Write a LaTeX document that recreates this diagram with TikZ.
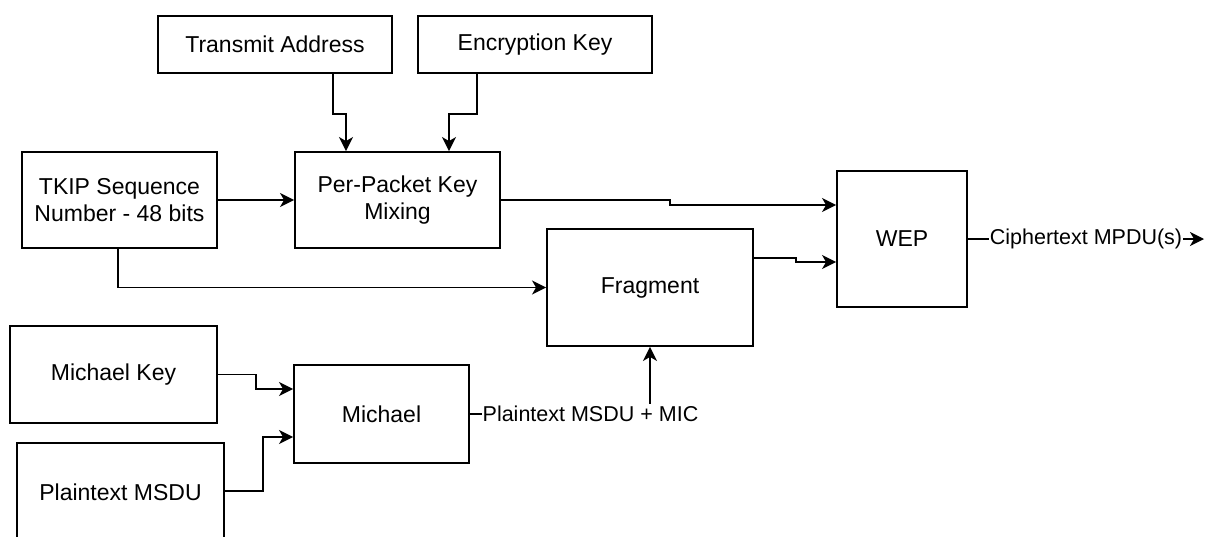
\documentclass[tikz,border=0pt]{standalone}
\usepackage{fontspec}
\setmainfont{Liberation Sans}
\usetikzlibrary{arrows.meta}
\begin{document}
\begin{tikzpicture}[x=1pt,y=-1pt,
  box/.style={draw, line width=1.9pt, align=center, inner sep=0pt,
    font=\fontsize{23}{27}\selectfont},
  arr/.style={line width=1.9pt, -{Stealth[length=14pt,width=14pt,inset=4pt]}},
  lbl/.style={fill=white, inner xsep=1pt, inner ysep=2pt,
    font=\fontsize{21.5}{25}\selectfont}]
\useasboundingbox (0,0) rectangle (1207,536);
\clip (0,0) rectangle (1207,536);

% key inputs
\node[box, minimum width=234pt, minimum height=57pt] (ta) at (275,44.5) {Transmit Address};
\node[box, minimum width=234pt, minimum height=57pt] (ek) at (535,44.5) {Encryption Key};

% mixing stage
\node[box, minimum width=195pt, minimum height=96pt] (tkip) at (119.5,200) {TKIP Sequence\\Number - 48 bits};
\node[box, minimum width=205pt, minimum height=96pt] (ppkm) at (397.5,200) {Per-Packet Key\\Mixing};

% fragmentation and encryption
\node[box, minimum width=206pt, minimum height=117pt] (frag) at (650,287.5) {Fragment};
\node[box, minimum width=130pt, minimum height=136pt] (wep) at (902,239) {WEP};

% integrity stage
\node[box, minimum width=207pt, minimum height=97pt] (mk) at (113.5,374.5) {Michael Key};
\node[box, minimum width=207pt, minimum height=98pt] (pm) at (120.5,492) {Plaintext MSDU};
\node[box, minimum width=175pt, minimum height=98pt] (mich) at (381.5,414) {Michael};

% connectors
\draw[arr] ([xshift=58pt]ta.south) -- ++(0,40) -| ([xshift=-51.5pt]ppkm.north);
\draw[arr] ([xshift=-58pt]ek.south) -- ++(0,40) -| ([xshift=51.5pt]ppkm.north);
\draw[arr] (tkip.east) -- (ppkm.west);
\draw[arr] (ppkm.east) -- ++(169,0) |- ([yshift=34pt]wep.west);
\draw[arr] ([xshift=-1.5pt]tkip.south) |- (frag.west);
\draw[arr] ([yshift=29.5pt]frag.east) -- ++(42,0) |- ([yshift=-23pt]wep.west);
\draw[arr] (mk.east) -- ++(38,0) |- ([yshift=25pt]mich.west);
\draw[arr] ([yshift=1pt]pm.east) -- ++(38,0) |- ([yshift=-23pt]mich.west);
\draw[arr] (mich.east) -| (frag.south);
\coordinate (out) at (1204,239);
\draw[arr] (wep.east) -- (out);

% connector labels
\node[lbl] (micl) at (590.5,414) {Plaintext MSDU + MIC};
\node[lbl] (outl) at (1086,239) {Ciphertext MPDU(s)};
\end{tikzpicture}
\end{document}
